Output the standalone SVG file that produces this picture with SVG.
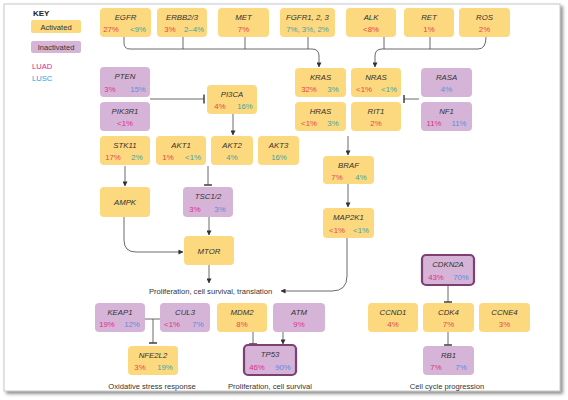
<svg xmlns="http://www.w3.org/2000/svg" width="568" height="400" viewBox="0 0 568 400">
<defs>
<marker id="ar" viewBox="0 0 6 6" refX="5.5" refY="3" markerWidth="5" markerHeight="5" orient="auto" markerUnits="userSpaceOnUse"><path d="M0,0 L6,3 L0,6 z" fill="#333"/></marker>
<filter id="sh" x="-5%" y="-5%" width="110%" height="110%"><feDropShadow dx="2.5" dy="2.5" stdDeviation="1.5" flood-color="#777" flood-opacity="0.8"/></filter>
</defs>
<style>
text{font-family:"Liberation Sans",Arial,sans-serif;}
.y{fill:#fcd87f;}
.p{fill:#d6b4d8;}
.tk{stroke:#7e3f73;stroke-width:2.2;}
.n{font-size:7.8px;font-style:italic;fill:#333;text-anchor:middle;}
.v{font-size:7.8px;text-anchor:middle;}
.ay{fill:#e8464f;}
.by{fill:#3ea6a6;}
.ap{fill:#df2f86;}
.bp{fill:#5b8ed8;}
.lab{font-size:7.6px;fill:#333;text-anchor:middle;}
.c{fill:none;stroke:#444;stroke-width:0.8;}
.a{marker-end:url(#ar);}
.bar{stroke:#333;stroke-width:1.4;fill:none;}
</style>
<rect x="0" y="0" width="568" height="400" fill="#fff"/>
<rect x="4" y="4" width="556" height="387" fill="#fff" stroke="#c8c8c8" stroke-width="1" filter="url(#sh)"/>

<g id="key">
<text x="33" y="16" font-size="8" font-weight="bold" fill="#222">KEY</text>
<rect class="y" x="31" y="20" width="50" height="13" rx="2"/>
<text x="56" y="29.5" font-size="7.6" fill="#333" text-anchor="middle">Activated</text>
<rect class="p" x="31" y="41" width="50" height="12" rx="2"/>
<text x="56" y="50" font-size="7.6" fill="#333" text-anchor="middle">Inactivated</text>
<text x="32" y="69" font-size="7.6" fill="#e2287f">LUAD</text>
<text x="32" y="81" font-size="7.6" fill="#27a3df">LUSC</text>
</g>

<g id="connectors">
<path class="c a" d="M124,37 V43 Q124,49 130,49 H312 Q319,49 319,56 V67"/>
<path class="c" d="M183,37 V49 M245,37 V49 M308,37 V49"/>
<path class="c a" d="M486,37 Q486,49 478,49 H382 Q375,49 375,56 V67"/>
<path class="c" d="M384,37 V49 M430,37 V49"/>
<path class="c" d="M419,99 H404"/><path class="bar" d="M404,95 V103"/>
<path class="c a" d="M348,136 V155"/>
<path class="c a" d="M348,184 V207"/>
<path class="c a" d="M347,238 V276 Q347,291 332,291 H281"/>
<path class="c" d="M150,99 H204"/><path class="bar" d="M204,94.5 V103.5"/>
<path class="c a" d="M233,114 V135"/>
<path class="c" d="M208,166 V185"/><path class="bar" d="M204,185 H212"/>
<path class="c a" d="M125,166 V186"/>
<path class="c a" d="M124,217 V240 Q124,252 136,252 H183"/>
<path class="c a" d="M209,217 V235"/>
<path class="c a" d="M209,265 V283"/>
<path class="c" d="M145,319 H160 M153,319 V343"/><path class="bar" d="M149,343 H157"/>
<path class="c" d="M253,332 V344"/><path class="bar" d="M249,344 H257"/>
<path class="c a" d="M283,332 V344"/>
<path class="c" d="M448,285 V302"/><path class="bar" d="M444,302 H452"/>
<path class="c" d="M448,332 V345"/><path class="bar" d="M444,345 H452"/>
</g>

<g id="EGFR"><rect class="y" x="100" y="8" width="51" height="29" rx="4"/><text class="n" x="125.5" y="20">EGFR</text><text class="v ay" x="111" y="32">27%</text><text class="v by" x="138" y="32">&lt;9%</text></g>
<g id="ERBB2-3"><rect class="y" x="157" y="8" width="50" height="29" rx="4"/><text class="n" x="182" y="20">ERBB2/3</text><text class="v ay" x="170" y="32">3%</text><text class="v by" x="194" y="32">2–4%</text></g>
<g id="MET"><rect class="y" x="218" y="8" width="51" height="29" rx="4"/><text class="n" x="243.5" y="20">MET</text><text class="v ay" x="243.5" y="32">7%</text></g>
<g id="FGFR"><rect class="y" x="280" y="8" width="55" height="29" rx="4"/><text class="n" x="307.5" y="20">FGFR1, 2, 3</text><text class="v by" x="307.5" y="32">7%, 3%, 2%</text></g>
<g id="ALK"><rect class="y" x="346" y="8" width="50" height="29" rx="4"/><text class="n" x="371" y="20">ALK</text><text class="v ay" x="371" y="32">&lt;8%</text></g>
<g id="RET"><rect class="y" x="404" y="8" width="50" height="29" rx="4"/><text class="n" x="429" y="20">RET</text><text class="v ay" x="429" y="32">1%</text></g>
<g id="ROS"><rect class="y" x="459" y="8" width="51" height="29" rx="4"/><text class="n" x="484.5" y="20">ROS</text><text class="v ay" x="484.5" y="32">2%</text></g>

<g id="KRAS"><rect class="y" x="295" y="68" width="51" height="29" rx="4"/><text class="n" x="320.5" y="80">KRAS</text><text class="v ay" x="309" y="92">32%</text><text class="v by" x="333" y="92">3%</text></g>
<g id="NRAS"><rect class="y" x="351" y="68" width="50" height="29" rx="4"/><text class="n" x="376" y="80">NRAS</text><text class="v ay" x="364" y="92">&lt;1%</text><text class="v by" x="389" y="92">&lt;1%</text></g>
<g id="HRAS"><rect class="y" x="295" y="102" width="51" height="29" rx="4"/><text class="n" x="320.5" y="114">HRAS</text><text class="v ay" x="309" y="126">&lt;1%</text><text class="v by" x="333" y="126">3%</text></g>
<g id="RIT1"><rect class="y" x="351" y="102" width="50" height="29" rx="4"/><text class="n" x="376" y="114">RIT1</text><text class="v ay" x="376" y="126">2%</text></g>
<g id="RASA"><rect class="p" x="421" y="68" width="51" height="29" rx="4"/><text class="n" x="446.5" y="80">RASA</text><text class="v bp" x="446.5" y="92">4%</text></g>
<g id="NF1"><rect class="p" x="421" y="102" width="51" height="29" rx="4"/><text class="n" x="446.5" y="114">NF1</text><text class="v ap" x="434" y="126">11%</text><text class="v bp" x="459" y="126">11%</text></g>
<g id="BRAF"><rect class="y" x="323" y="156" width="51" height="28" rx="4"/><text class="n" x="348.5" y="168">BRAF</text><text class="v ay" x="337" y="180">7%</text><text class="v by" x="361" y="180">4%</text></g>
<g id="MAP2K1"><rect class="y" x="323" y="208" width="51" height="30" rx="4"/><text class="n" x="348.5" y="220">MAP2K1</text><text class="v ay" x="337" y="233">&lt;1%</text><text class="v by" x="361" y="233">&lt;1%</text></g>

<g id="PTEN"><rect class="p" x="100" y="67" width="50" height="30" rx="4"/><text class="n" x="125" y="79">PTEN</text><text class="v ap" x="110" y="92">3%</text><text class="v bp" x="138" y="92">15%</text></g>
<g id="PIK3R1"><rect class="p" x="100" y="102" width="50" height="29" rx="4"/><text class="n" x="125" y="114">PIK3R1</text><text class="v ap" x="125" y="126">&lt;1%</text></g>
<g id="PI3CA"><rect class="y" x="207" y="85" width="50" height="29" rx="4"/><text class="n" x="232" y="97">PI3CA</text><text class="v ay" x="220" y="109">4%</text><text class="v by" x="245" y="109">16%</text></g>
<g id="STK11"><rect class="y" x="100" y="136" width="50" height="29" rx="4"/><text class="n" x="125" y="148">STK11</text><text class="v ay" x="113" y="160">17%</text><text class="v by" x="137" y="160">2%</text></g>
<g id="AKT1"><rect class="y" x="156" y="136" width="50" height="29" rx="4"/><text class="n" x="181" y="148">AKT1</text><text class="v ay" x="168" y="160">1%</text><text class="v by" x="193" y="160">&lt;1%</text></g>
<g id="AKT2"><rect class="y" x="211" y="136" width="42" height="29" rx="4"/><text class="n" x="232" y="148">AKT2</text><text class="v by" x="232" y="160">4%</text></g>
<g id="AKT3"><rect class="y" x="258" y="136" width="41" height="29" rx="4"/><text class="n" x="278.5" y="148">AKT3</text><text class="v by" x="279" y="160">16%</text></g>
<g id="AMPK"><rect class="y" x="100" y="187" width="50" height="30" rx="4"/><text class="n" x="125" y="205">AMPK</text></g>
<g id="TSC1-2"><rect class="p" x="183" y="187" width="50" height="30" rx="4"/><text class="n" x="208" y="199">TSC1/2</text><text class="v ap" x="195" y="212">3%</text><text class="v bp" x="220" y="212">3%</text></g>
<g id="MTOR"><rect class="y" x="184" y="236" width="50" height="29" rx="4"/><text class="n" x="209" y="253.5">MTOR</text></g>
<text class="lab" x="210.5" y="294">Proliferation, cell survival, translation</text>

<g id="KEAP1"><rect class="p" x="95" y="303" width="50" height="29" rx="4"/><text class="n" x="120" y="315">KEAP1</text><text class="v ap" x="107" y="327">19%</text><text class="v bp" x="132" y="327">12%</text></g>
<g id="CUL3"><rect class="p" x="160" y="303" width="50" height="29" rx="4"/><text class="n" x="185" y="315">CUL3</text><text class="v ap" x="172" y="327">&lt;1%</text><text class="v bp" x="198" y="327">7%</text></g>
<g id="NFE2L2"><rect class="y" x="128" y="346" width="50" height="29" rx="4"/><text class="n" x="153" y="358">NFE2L2</text><text class="v ay" x="140" y="370">3%</text><text class="v by" x="165" y="370">19%</text></g>
<text class="lab" x="152" y="388.5">Oxidative stress response</text>
<g id="MDM2"><rect class="y" x="217" y="303" width="50" height="29" rx="4"/><text class="n" x="242" y="315">MDM2</text><text class="v ay" x="242" y="327">8%</text></g>
<g id="ATM"><rect class="p" x="273" y="303" width="52" height="29" rx="4"/><text class="n" x="299" y="315">ATM</text><text class="v ap" x="299" y="327">9%</text></g>
<g id="TP53"><rect class="p tk" x="244" y="345" width="52" height="30" rx="4"/><text class="n" x="270" y="357">TP53</text><text class="v ap" x="257" y="370">46%</text><text class="v bp" x="283" y="370">90%</text></g>
<text class="lab" x="270" y="388.5">Proliferation, cell survival</text>

<g id="CDKN2A"><rect class="p tk" x="422" y="255" width="52" height="30" rx="4"/><text class="n" x="448" y="267">CDKN2A</text><text class="v ap" x="436" y="280">43%</text><text class="v bp" x="461" y="280">70%</text></g>
<g id="CCND1"><rect class="y" x="368" y="303" width="50" height="29" rx="4"/><text class="n" x="393" y="315">CCND1</text><text class="v ay" x="393" y="327">4%</text></g>
<g id="CDK4"><rect class="y" x="423" y="303" width="51" height="29" rx="4"/><text class="n" x="448.5" y="315">CDK4</text><text class="v ay" x="448.5" y="327">7%</text></g>
<g id="CCNE4"><rect class="y" x="479" y="303" width="51" height="29" rx="4"/><text class="n" x="504.5" y="315">CCNE4</text><text class="v ay" x="504.5" y="327">3%</text></g>
<g id="RB1"><rect class="p" x="423" y="346" width="51" height="29" rx="4"/><text class="n" x="448.5" y="358">RB1</text><text class="v ap" x="436" y="370">7%</text><text class="v bp" x="461" y="370">7%</text></g>
<text class="lab" x="447" y="388.5">Cell cycle progression</text>
</svg>
